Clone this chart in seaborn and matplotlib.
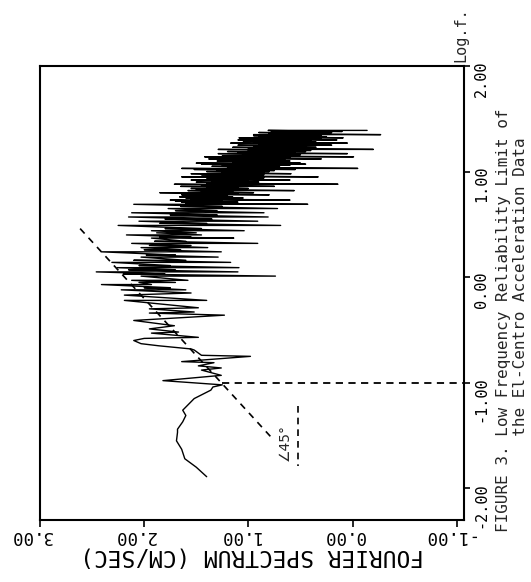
import matplotlib
matplotlib.use("Agg")
import matplotlib.pyplot as plt
import matplotlib.transforms as mtransforms
import seaborn as sns

# Fourier spectrum of the El-Centro record, log-log
# smooth part below the reliability limit
low_logf = [-1.89, -1.80, -1.72, -1.63, -1.55, -1.47, -1.44, -1.37, -1.31,
            -1.26, -1.23, -1.15, -1.11, -1.07, -1.04, -1.02]
low_spec = [1.40, 1.50, 1.61, 1.64, 1.69, 1.68, 1.68, 1.63, 1.60,
            1.63, 1.60, 1.52, 1.44, 1.36, 1.34, 1.25]

# just above the limit, point by point
mid_logf = [-0.98, -0.93, -0.88, -0.86, -0.84, -0.81, -0.80, -0.75, -0.74, -0.69,
            -0.68, -0.65, -0.63, -0.60, -0.58, -0.57, -0.53, -0.52, -0.49, -0.46,
            -0.41, -0.36, -0.34, -0.33, -0.30, -0.29, -0.22, -0.22, -0.17, -0.15]
mid_spec = [1.82, 1.26, 1.45, 1.26, 1.48, 1.33, 1.64, 0.98, 1.45, 1.52,
            1.55, 1.86, 2.03, 2.10, 2.00, 1.48, 1.93, 1.67, 1.95, 1.71,
            2.10, 1.23, 1.95, 1.52, 1.95, 1.48, 2.19, 1.40, 2.19, 1.55]

# dense upper band, one spike = (log f, peak, trough)
spike_logf = [-0.12, -0.10, -0.07, -0.05, -0.03, 0.01, 0.03, 0.05, 0.07, 0.09,
              0.11, 0.14, 0.16, 0.19, 0.21, 0.24, 0.26, 0.28, 0.30, 0.32,
              0.34, 0.37, 0.38, 0.40, 0.42, 0.44, 0.46, 0.49, 0.51, 0.53,
              0.55, 0.57, 0.59, 0.61, 0.63, 0.65, 0.67,
              0.69, 0.70, 0.71, 0.72, 0.73, 0.74, 0.75, 0.76, 0.77, 0.78,
              0.79, 0.80, 0.81, 0.82, 0.83, 0.84, 0.85, 0.86, 0.87, 0.88,
              0.89, 0.90, 0.91, 0.92, 0.93, 0.94, 0.95, 0.96, 0.97, 0.98,
              0.99, 1.00, 1.01, 1.02, 1.03, 1.04, 1.05, 1.06, 1.07, 1.08,
              1.09, 1.10, 1.11, 1.12, 1.13, 1.14, 1.15, 1.16, 1.17, 1.18,
              1.19, 1.20, 1.21, 1.22, 1.23, 1.24, 1.25, 1.26, 1.27, 1.28,
              1.29, 1.30, 1.31, 1.32, 1.33, 1.34, 1.35, 1.36, 1.37, 1.38,
              1.39]
spike_hi = [2.22, 2.00, 2.41, 2.05, 2.12, 2.03, 2.20, 2.46, 2.15, 2.26,
            2.05, 2.31, 2.10, 2.03, 1.98, 2.41, 2.00, 2.03, 1.95, 2.12,
            1.90, 1.93, 1.85, 2.17, 1.88, 1.93, 1.80, 2.25, 1.85, 2.05,
            1.80, 2.15, 1.75, 2.12, 1.70, 1.77, 1.65,
            2.10, 1.60, 1.64, 1.70, 1.75, 1.55, 1.60, 1.66, 1.50, 1.64,
            1.55, 1.85, 1.45, 1.58, 1.50, 1.55, 1.40, 1.65, 1.45, 1.71,
            1.40, 1.50, 1.35, 1.55, 1.40, 1.30, 1.64, 1.35, 1.45, 1.55,
            1.25, 1.40, 1.30, 1.52, 1.64, 1.20, 1.35, 1.25, 1.45, 1.50,
            1.15, 1.30, 1.20, 1.38, 1.10, 1.42, 1.25, 1.05, 1.29, 1.10,
            1.20, 1.00, 1.29, 1.00, 1.15, 0.95, 1.10, 0.90, 1.17, 0.95,
            1.05, 1.10, 0.85, 1.09, 0.90, 0.95, 0.95, 0.80, 0.90, 0.78,
            0.81]
spike_lo = [1.60, 1.75, 1.93, 1.70, 1.58, 0.74, 1.80, 1.10, 1.70, 1.09,
            1.75, 1.17, 1.60, 1.29, 1.70, 1.26, 1.65, 1.39, 1.55, 0.91,
            1.60, 1.14, 1.55, 1.45, 1.50, 1.04, 1.45, 0.69, 1.40, 0.91,
            1.35, 0.81, 1.30, 0.85, 1.30, 0.72, 1.25,
            0.43, 1.30, 1.10, 1.25, 0.60, 1.20, 1.05, 1.15, 1.20, 0.80,
            1.10, 0.95, 1.15, 0.56, 1.05, 1.00, 1.10, 0.75, 1.00, 0.14,
            1.05, 0.90, 1.00, 0.60, 0.95, 0.85, 0.33, 0.90, 0.85, 0.59,
            0.85, 0.80, 0.75, 0.55, -0.05, 0.80, 0.70, 0.60, 0.45, 0.50,
            0.70, 0.60, 0.65, 0.30, 0.60, -0.01, 0.55, 0.50, 0.05, 0.55,
            0.45, 0.40, -0.20, 0.50, 0.35, 0.45, 0.20, 0.40, 0.05, 0.35,
            0.40, 0.15, 0.30, 0.09, 0.25, 0.30, -0.27, 0.25, 0.20, 0.10,
            -0.14]

# reliability limit and the 45 degree construction
limit_spec = [1.25, -1.07]
limit_logf = [-1.0, -1.0]
slope_spec = [2.615, 0.768]
slope_logf = [0.46, -1.53]
ref_spec = [0.523, 0.523]
ref_logf = [-1.22, -1.79]

spec_ticks = [3, 2, 1, 0, -1]
spec_labels = ["3.00", "2.00", "1.00", "0.00", "-1.00"]
logf_ticks = [-2, -1, 0, 1, 2]
logf_labels = ["-2.00", "-1.00", "0.00", "1.00", "2.00"]

# join everything into one trace
spec = list(low_spec) + list(mid_spec)
logf = list(low_logf) + list(mid_logf)
for f, hi, lo in zip(spike_logf, spike_hi, spike_lo):
    spec += [hi, lo]
    logf += [f, f]

sns.set_theme(style="ticks")
plt.rcParams['font.family'] = ['DejaVu Sans Mono', 'DejaVu Sans']

fig = plt.figure(figsize=(5.31, 5.82), dpi=100)
W, H = 531, 582
ax = fig.add_axes([40 / W, 1 - 520 / H, 424 / W, 454 / H])

sns.lineplot(x=spec, y=logf, sort=False, estimator=None, color='black',
             lw=1.0, ax=ax)
ax.plot(limit_spec, limit_logf, color='black', lw=1.3, dashes=(4, 3))
ax.plot(slope_spec, slope_logf, color='black', lw=1.2, dashes=(4, 3.5))
ax.plot(ref_spec, ref_logf, color='black', lw=1.2, dashes=(4, 3))
ax.text(0.65, -1.57, "\u222045\u00b0", rotation=90, ha='center', va='center',
        fontsize=10, family=['DejaVu Sans'])

ax.set_xlim(3.0, -1.07)
ax.set_ylim(-2.30, 2.0)
ax.yaxis.tick_right()
ax.set_xticks(spec_ticks)
ax.set_xticklabels(spec_labels)
ax.set_yticks(logf_ticks)
ax.set_yticklabels(logf_labels)
ax.tick_params(axis='x', direction='out', length=5, width=1.2, pad=0,
               labelsize=12.5, labelrotation=180, colors='black')
ax.tick_params(axis='y', direction='out', length=4, width=1.2, pad=3,
               labelsize=11, labelrotation=90, colors='black')
for lab in ax.get_xticklabels():
    lab.set_transform(lab.get_transform() +
                      mtransforms.ScaledTranslation(-9 / 100, 0, fig.dpi_scale_trans))
for s in ax.spines.values():
    s.set_visible(True)
    s.set_linewidth(1.5)
    s.set_color('black')

ax.set_xlabel("FOURIER SPECTRUM (CM/SEC)", rotation=180, fontsize=16.5,
              labelpad=0, color='black')
ax.set_ylabel("")

fig.text(461 / W, 1 - 62 / H, "Log.f.", rotation=90, ha='center', va='bottom',
         fontsize=11)
fig.text(512 / W, 1 - 532 / H,
         "FIGURE 3. Low Frequency Reliability Limit of\n"
         "          the El-Centro Acceleration Data",
         rotation=90, ha='center', va='bottom', multialignment='left',
         fontsize=11.5, linespacing=1.15)

fig.savefig("out.png", dpi=100, facecolor='white')
